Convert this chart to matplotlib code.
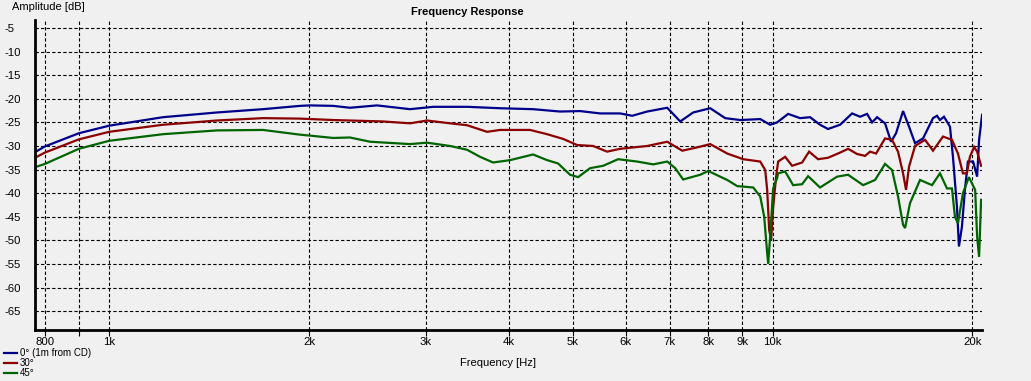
import matplotlib
matplotlib.use("Agg")
import matplotlib.pyplot as plt
import numpy as np

plt.rcParams['font.family'] = ['Liberation Sans', 'DejaVu Sans']
plt.rcParams['lines.scale_dashes'] = False

# ---- data ----
f_0 = [773, 800, 900, 1000, 1205, 1453, 1705, 1939, 2007, 2175, 2306, 2533, 2841, 3078,
       3462, 3882, 4353, 4780, 5125, 5493, 5889, 6140, 6467, 6934, 7254, 7587, 8050,
       8479, 8933, 9575, 9911, 10153, 10549, 10997, 11383, 11784, 12114, 12633, 13171,
       13541, 13873, 14115, 14363, 14765, 15077, 15340, 15718, 16047, 16385, 16846,
       17440, 17682, 17866, 18117, 18497, 18690, 18950, 19082, 19281, 19482, 19685,
       20045, 20324, 20464, 20677]
db_0 = [-31.3, -30.1, -27.3, -25.7, -23.9, -22.9, -22.2, -21.5, -21.4, -21.5, -21.9, -21.4,
        -22.2, -21.7, -21.7, -22.0, -22.2, -22.7, -22.6, -23.1, -23.1, -23.6, -22.7, -21.9,
        -24.8, -22.9, -22.0, -24.1, -24.5, -24.3, -25.5, -25.0, -23.2, -24.1, -23.9, -25.5,
        -26.4, -25.5, -23.1, -23.8, -23.2, -25.0, -23.9, -25.2, -29.1, -27.3, -22.6, -25.9,
        -29.4, -28.4, -24.1, -23.6, -24.5, -23.8, -25.9, -32.3, -42.9, -51.3, -47.1, -39.3,
        -33.3, -33.3, -36.5, -28.7, -23.4]

f_30 = [773, 800, 900, 1000, 1205, 1453, 1705, 1939, 2175, 2586, 2841, 3013, 3264, 3462,
        3711, 3882, 4308, 4570, 4831, 5073, 5362, 5628, 5889, 6467, 6934, 7305, 7694, 8050,
        8538, 9026, 9575, 9742, 9809, 9877, 9945, 10014, 10118, 10188, 10440, 10696, 11073,
        11344, 11703, 12114, 12633, 12990, 13400, 13778, 14018, 14313, 14765, 15129, 15446,
        15718, 15882, 16047, 16385, 16964, 17440, 18055, 18625, 19016, 19348, 19617, 19821,
        20115, 20324, 20606]
db_30 = [-32.5, -31.4, -28.6, -27.0, -25.5, -24.6, -24.1, -24.2, -24.5, -24.8, -25.2, -24.6,
         -25.2, -25.6, -27.0, -26.6, -26.6, -27.5, -28.5, -29.8, -30.0, -31.2, -30.6, -30.0,
         -29.1, -31.0, -30.3, -29.6, -31.6, -32.8, -33.3, -35.1, -39.3, -47.8, -49.9, -43.0,
         -36.5, -33.3, -32.3, -34.2, -33.5, -31.2, -32.8, -32.5, -31.4, -30.6, -31.7, -32.1,
         -31.2, -31.6, -28.4, -28.7, -31.2, -35.8, -39.3, -34.4, -30.0, -28.7, -31.0, -28.0,
         -28.7, -31.6, -35.8, -35.8, -32.3, -30.2, -31.2, -34.2]

f_45 = [773, 800, 900, 1000, 1205, 1453, 1705, 1939, 2007, 2175, 2306, 2473, 2841, 3013,
        3264, 3462, 3622, 3789, 4019, 4353, 4570, 4747, 4950, 5090, 5306, 5551, 5848, 6247,
        6604, 6934, 7129, 7328, 7774, 7994, 8538, 8840, 9346, 9575, 9708, 9809, 9843, 9911,
        10014, 10153, 10188, 10440, 10733, 11073, 11305, 11784, 12503, 12990, 13683, 14264,
        14765, 15129, 15446, 15718, 15827, 16103, 16672, 17380, 17866, 18306, 18625, 18819,
        19016, 19348, 19753, 20184, 20324, 20464, 20606]
db_45 = [-34.5, -33.8, -30.6, -28.9, -27.5, -26.7, -26.6, -27.6, -27.8, -28.3, -28.2, -29.1,
         -29.6, -29.3, -30.0, -30.8, -32.3, -33.5, -33.0, -31.8, -33.0, -33.7, -36.1, -36.6,
         -34.7, -34.2, -32.8, -33.3, -33.9, -33.3, -34.7, -37.1, -36.1, -35.3, -37.2, -38.5,
         -38.8, -40.7, -45.0, -52.7, -54.9, -49.2, -39.0, -36.8, -35.8, -35.4, -38.3, -38.1,
         -36.4, -38.8, -36.5, -36.1, -38.3, -37.2, -33.8, -35.1, -40.7, -46.7, -47.4, -42.1,
         -37.2, -38.3, -35.8, -39.0, -39.0, -45.0, -46.4, -40.0, -36.6, -39.3, -49.2, -53.5,
         -41.4]

labels = ['0° (1m from CD)', '30°', '45°']
colors = ['#00008B', '#8B0000', '#006400']

xticks = [800, 900, 1000, 2000, 3000, 4000, 5000, 6000, 7000, 8000, 9000, 10000, 20000]
xticklabels = ['800', '', '1k', '2k', '3k', '4k', '5k', '6k', '7k', '8k', '9k', '10k', '20k']
yticks = [-5, -10, -15, -20, -25, -30, -35, -40, -45, -50, -55, -60, -65]

# ---- figure ----
bg = '#F0F0F0'
fig = plt.figure(figsize=(10.31, 3.81), dpi=100, facecolor=bg)
ax = fig.add_axes([35/1031, 1-330/381, (982.4-35)/1031, (330-20)/381], facecolor=bg)

lines = []
for f, d, c, l in zip([f_0, f_30, f_45], [db_0, db_30, db_45], colors, labels):
    ln, = ax.plot(f, d, color=c, lw=1.6, label=l, solid_joinstyle='miter')
    lines.append(ln)

ax.set_xscale('log')
ax.set_xlim(773, 20700)
ax.set_ylim(-69.0, -3.3)
ax.set_xticks(xticks)
ax.set_xticklabels(xticklabels)
ax.xaxis.set_minor_locator(matplotlib.ticker.NullLocator())
ax.set_yticks(yticks)
ax.set_yticklabels([str(v) for v in yticks])

ax.grid(True, color='black', lw=0.8, linestyle=(0, (2.4, 1.6)))
ax.set_axisbelow(True)

for s in ['top', 'right']:
    ax.spines[s].set_visible(False)
for s in ['left', 'bottom']:
    ax.spines[s].set_linewidth(2.0)
    ax.spines[s].set_color('black')

ax.tick_params(axis='x', length=4, width=0.8, pad=1, labelsize=8.2, colors='black')
ax.tick_params(axis='y', length=0, pad=22, labelsize=8.2)
for t in ax.get_yticklabels():
    t.set_horizontalalignment('left')

fig.text(467/1031, 1-12/381, 'Frequency Response', ha='center', va='center',
         fontsize=8, fontweight='bold')
fig.text(12/1031, 1-7/381, 'Amplitude [dB]', ha='left', va='center', fontsize=8)
fig.text(498/1031, 1-363/381, 'Frequency [Hz]', ha='center', va='center', fontsize=8)

fig.legend(handles=lines, loc='upper left', bbox_to_anchor=(4/1031, 1-348/381),
           frameon=False, fontsize=7, handlelength=1.3, handletextpad=0.35,
           labelspacing=0.02, borderpad=0, borderaxespad=0)

fig.savefig('out.png', dpi=100, facecolor=bg)
